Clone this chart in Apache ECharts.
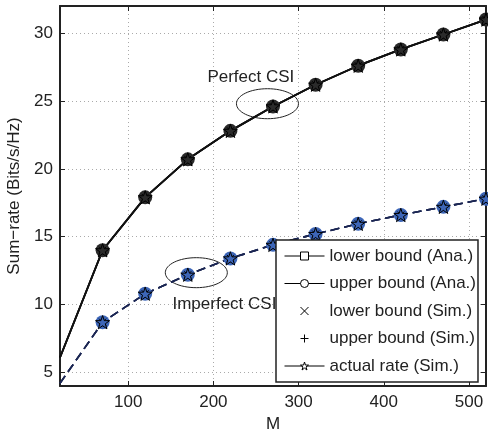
<!DOCTYPE html>
<html lang="en">
<head>
    <meta charset="UTF-8">
    <title>Sum-rate vs M</title>
    <script src="https://cdn.jsdelivr.net/npm/echarts@6/dist/echarts.min.js"></script>
    <style>
        html, body { margin: 0; padding: 0; background: #fff; }
        #chart { width: 488px; height: 432px; }
    </style>
</head>
<body>
<div id="chart"></div>
<script>
    // data
    var mList = [20, 70, 120, 170, 220, 270, 320, 370, 420, 470, 520];
    var perfectRate = [6.1, 14.0, 17.9, 20.7, 22.8, 24.6, 26.2, 27.6, 28.8, 29.9, 31.0];
    var imperfectRate = [4.2, 8.7, 10.8, 12.2, 13.4, 14.4, 15.2, 15.95, 16.6, 17.2, 17.8];
    var xTicks = [100, 200, 300, 400, 500];
    var yTicks = [5, 10, 15, 20, 25, 30];
    var legendNames = ['lower bound (Ana.)', 'upper bound (Ana.)', 'lower bound (Sim.)', 'upper bound (Sim.)', 'actual rate (Sim.)'];

    var FONT = '"Liberation Sans", Arial, Helvetica, sans-serif';
    var FS = 17;
    var crossPath = 'path://M0,0L10,10M10,0L0,10';
    var plusPath = 'path://M5,0L5,10M0,5L10,5';
    var starPath = 'path://M10,0L12.245,6.91L19.511,6.91L13.633,11.18L15.878,18.09L10,13.82L4.122,18.09L6.367,11.18L0.489,6.91L7.755,6.91Z';

    // first point (M=20) has no marker in the figure, only the line
    function pairs(vals) {
        return mList.map(function (m, i) {
            if (i === 0) return { value: [m, vals[i]], symbol: 'none' };
            return [m, vals[i]];
        });
    }

    var curves = [
        { data: pairs(perfectRate), line: { color: '#111', width: 1.8, type: 'solid' }, fill: '#2b2b2b' },
        { data: pairs(imperfectRate), line: { color: '#1b2653', width: 1.6, type: [9, 5] }, fill: '#3d66b8' }
    ];

    var series = [];
    // series in legend order; the perfect-CSI one of each name gives the legend icon
    legendNames.forEach(function (name, k) {
        curves.forEach(function (c) {
            var s = {
                name: name,
                type: 'line',
                data: c.data,
                silent: true,
                animation: false,
                symbolKeepAspect: true,
                lineStyle: { color: c.line.color, width: c.line.width, type: c.line.type },
                itemStyle: { color: c.fill, borderColor: '#000', borderWidth: 0 }
            };
            if (k === 0) {
                s.symbol = 'rect'; s.symbolSize = 9;
            } else if (k === 1) {
                s.symbol = 'circle'; s.symbolSize = 14;
            } else if (k === 2) {
                s.symbol = crossPath; s.symbolSize = 7;
                s.lineStyle = { width: 0, opacity: 0 };
                s.itemStyle = { color: 'none', borderColor: '#000', borderWidth: 1 };
            } else if (k === 3) {
                s.symbol = plusPath; s.symbolSize = 8;
                s.lineStyle = { width: 0, opacity: 0 };
                s.itemStyle = { color: 'none', borderColor: '#000', borderWidth: 1 };
            } else {
                s.symbol = starPath; s.symbolSize = 14;
                s.itemStyle = { color: c.fill, borderColor: '#000', borderWidth: 1 };
            }
            series.push(s);
        });
    });

    var legendData = legendNames.map(function (name, k) {
        var simOnly = (k === 2 || k === 3);
        return {
            name: name,
            itemStyle: { color: '#fff', borderColor: '#000', borderWidth: 1 },
            lineStyle: { color: '#000', width: simOnly ? 0 : 1, opacity: simOnly ? 0 : 1, type: 'solid' }
        };
    });

    var tickStyle = { show: true, inside: true, length: 5, lineStyle: { color: '#222', width: 1 } };

    var option = {
        animation: false,
        backgroundColor: '#fff',
        grid: { left: 60, top: 6, right: 2, bottom: 46, outerBoundsMode: 'none' },
        xAxis: [{
            type: 'value',
            min: 20, max: 520,
            name: 'M',
            nameLocation: 'middle',
            nameGap: 27,
            nameTextStyle: { fontFamily: FONT, fontSize: FS, color: '#222' },
            axisLine: { show: true, onZero: false, lineStyle: { color: '#222', width: 2 } },
            axisTick: Object.assign({ customValues: xTicks }, tickStyle),
            axisLabel: { customValues: xTicks, margin: 8, fontFamily: FONT, fontSize: FS, color: '#222' },
            splitLine: { show: true, lineStyle: { color: '#aaa', type: [1, 3], width: 1 } }
        }, {
            type: 'value',
            position: 'top',
            min: 20, max: 520,
            axisLine: { show: true, onZero: false, lineStyle: { color: '#222', width: 2 } },
            axisTick: Object.assign({ customValues: xTicks }, tickStyle),
            axisLabel: { show: false },
            splitLine: { show: false }
        }],
        yAxis: [{
            type: 'value',
            min: 4, max: 32,
            name: 'Sum\u2212rate (Bits/s/Hz)',
            nameLocation: 'middle',
            nameGap: 32,
            nameTextStyle: { fontFamily: FONT, fontSize: FS, color: '#222' },
            axisLine: { show: true, onZero: false, lineStyle: { color: '#222', width: 2 } },
            axisTick: Object.assign({ customValues: yTicks }, tickStyle),
            axisLabel: { customValues: yTicks, margin: 7, fontFamily: FONT, fontSize: FS, color: '#222' },
            splitLine: { show: true, lineStyle: { color: '#aaa', type: [1, 3], width: 1 } }
        }, {
            type: 'value',
            position: 'right',
            min: 4, max: 32,
            axisLine: { show: true, onZero: false, lineStyle: { color: '#222', width: 2 } },
            axisTick: Object.assign({ customValues: yTicks }, tickStyle),
            axisLabel: { show: false },
            splitLine: { show: false }
        }],
        legend: {
            orient: 'vertical',
            left: 276,
            top: 240,
            width: 209,
            padding: [7, 2, 7, 8],
            itemWidth: 40,
            itemHeight: 10,
            itemGap: 9.5,
            backgroundColor: '#fff',
            borderColor: '#222',
            borderWidth: 1.5,
            borderRadius: 0,
            selectedMode: false,
            textStyle: { fontFamily: FONT, fontSize: FS, color: '#222', lineHeight: 18, padding: [0, 0, 0, 0] },
            data: legendData
        },
        series: series
    };

    var myChart = echarts.init(document.getElementById('chart'));
    myChart.setOption(option);

    // annotations: ellipse + label, anchored in data coordinates
    var ellipses = [[263.5, 24.8], [180, 12.35]];
    var labels = [
        { text: 'Perfect CSI', at: [193, 26.75] },
        { text: 'Imperfect CSI', at: [152, 10] }
    ];
    var graphics = [];
    ellipses.forEach(function (p) {
        var px = myChart.convertToPixel({ gridIndex: 0 }, p);
        graphics.push({
            type: 'ellipse',
            shape: { cx: px[0], cy: px[1], rx: 31, ry: 15 },
            style: { fill: 'none', stroke: '#222', lineWidth: 1 },
            z: 3
        });
    });
    labels.forEach(function (l) {
        var px = myChart.convertToPixel({ gridIndex: 0 }, l.at);
        graphics.push({
            type: 'text',
            x: px[0], y: px[1],
            style: { text: l.text, font: FS + 'px ' + FONT, fill: '#222', verticalAlign: 'middle' },
            z: 3
        });
    });
    myChart.setOption({ graphic: graphics });
    window.onresize = myChart.resize;
</script>
</body>
</html>
